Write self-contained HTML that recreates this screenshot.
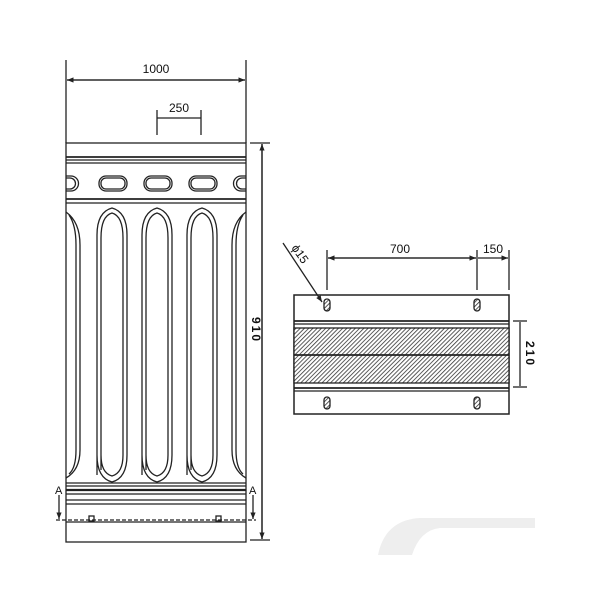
<!DOCTYPE html>
<html><head><style>body{margin:0;background:#fff}svg{display:block}text{font-family:"Liberation Sans",sans-serif;fill:#111}</style></head><body>
<svg width="600" height="600" viewBox="0 0 600 600" xmlns="http://www.w3.org/2000/svg">
<defs>
<pattern id="h" width="3" height="3" patternUnits="userSpaceOnUse" patternTransform="rotate(45)"><rect width="3" height="3" fill="#fff"/><line x1="0" y1="0" x2="0" y2="3" stroke="#333" stroke-width="1.6"/></pattern>
<marker id="a" markerWidth="6" markerHeight="6" refX="5" refY="3" orient="auto"><path d="M0,1 L5,3 L0,5" fill="#222"/></marker>
</defs>
<g stroke="#222" fill="none" stroke-width="1.3">
<line x1="66" y1="60" x2="66" y2="143"/><line x1="246" y1="60" x2="246" y2="143"/>
<line x1="67" y1="80" x2="245" y2="80" marker-end="url(#a)"/><line x1="245" y1="80" x2="67" y2="80" marker-end="url(#a)"/>
<line x1="157" y1="110" x2="157" y2="135"/><line x1="201" y1="110" x2="201" y2="135"/>
<line x1="157" y1="118" x2="201" y2="118"/>
<line x1="250" y1="143" x2="270" y2="143"/><line x1="250" y1="540" x2="270" y2="540"/>
<line x1="262" y1="144" x2="262" y2="539" marker-end="url(#a)"/><line x1="262" y1="539" x2="262" y2="144" marker-end="url(#a)"/>
<rect x="66" y="143" width="180" height="399"/>
<line x1="66" y1="157" x2="246" y2="157" stroke-width="1.8"/><line x1="66" y1="160" x2="246" y2="160"/><line x1="66" y1="163" x2="246" y2="163"/>
<line x1="66" y1="199" x2="246" y2="199" stroke-width="1.8"/><line x1="66" y1="203" x2="246" y2="203"/>
<g stroke-width="1.3">
<rect x="99" y="176" width="28" height="15" rx="7"/><rect x="101" y="178" width="24" height="11" rx="5"/>
<rect x="144" y="176" width="28" height="15" rx="7"/><rect x="146" y="178" width="24" height="11" rx="5"/>
<rect x="189" y="176" width="28" height="15" rx="7"/><rect x="191" y="178" width="24" height="11" rx="5"/>
<path d="M66,176 H71 a7,7 0 0 1 0,15 H66 M66,178 H70 a5,5 0 0 1 0,11 H66"/>
<path d="M246,176 H241 a7,7 0 0 0 0,15 H246 M246,178 H242 a5,5 0 0 0 0,11 H246"/>
</g>
<g fill="#fff" stroke-width="1.3">
<path d="M97,475 V235 Q97,212 112,208 Q127,212 127,235 V455 Q127,478 112,482 Q97,478 97,455 Z"/>
<path d="M101,470 V238 Q101,216 112,213 Q123,216 123,238 V455 Q123,473 112,476 Q101,473 101,455 Z"/>
<path d="M142,475 V235 Q142,212 157,208 Q172,212 172,235 V455 Q172,478 157,482 Q142,478 142,455 Z"/>
<path d="M146,470 V238 Q146,216 157,213 Q168,216 168,238 V455 Q168,473 157,476 Q146,473 146,455 Z"/>
<path d="M187,475 V235 Q187,212 202,208 Q217,212 217,235 V455 Q217,478 202,482 Q187,478 187,455 Z"/>
<path d="M191,470 V238 Q191,216 202,213 Q213,216 213,238 V455 Q213,473 202,476 Q191,473 191,455 Z"/>
</g>
<path d="M66,212 Q80,222 80,245 V450 Q80,470 66,478 M69,215 Q76,225 76,245 V450 Q76,468 69,474"/>
<path d="M246,212 Q232,222 232,245 V450 Q232,470 246,478 M243,215 Q236,225 236,245 V450 Q236,468 243,474"/>
<line x1="66" y1="483" x2="246" y2="483"/><line x1="66" y1="486" x2="246" y2="486"/>
<line x1="66" y1="490" x2="246" y2="490" stroke-width="2.2"/><line x1="66" y1="494" x2="246" y2="494"/>
<line x1="66" y1="500" x2="246" y2="500"/><line x1="66" y1="504" x2="246" y2="504"/>
<line x1="56" y1="520" x2="256" y2="520" stroke-dasharray="4,2"/><line x1="66" y1="522" x2="246" y2="522"/>
<rect x="89" y="516" width="5" height="5"/><rect x="216" y="516" width="5" height="5"/>
<line x1="59" y1="495" x2="59" y2="519" marker-end="url(#a)"/><line x1="253" y1="495" x2="253" y2="519" marker-end="url(#a)"/>
<line x1="327" y1="250" x2="327" y2="290"/><line x1="477" y1="250" x2="477" y2="290"/><line x1="509" y1="250" x2="509" y2="290"/>
<line x1="328" y1="258" x2="476" y2="258" marker-end="url(#a)"/><line x1="476" y1="258" x2="328" y2="258" marker-end="url(#a)"/>
<line x1="478" y1="258" x2="508" y2="258" marker-end="url(#a)"/>
<line x1="283" y1="243" x2="322" y2="302" marker-end="url(#a)"/>
<rect x="294" y="295" width="215" height="119" stroke-width="1.5"/>
<rect x="294" y="328" width="215" height="55" fill="url(#h)"/>
<line x1="294" y1="321" x2="509" y2="321" stroke-width="1.8"/><line x1="294" y1="324" x2="509" y2="324"/>
<line x1="294" y1="355" x2="509" y2="355" stroke-width="1.8"/>
<line x1="294" y1="388" x2="509" y2="388" stroke-width="1.8"/><line x1="294" y1="391" x2="509" y2="391"/>
<g fill="url(#h)"><rect x="324" y="299" width="6" height="12" rx="3"/><rect x="474" y="299" width="6" height="12" rx="3"/><rect x="324" y="397" width="6" height="12" rx="3"/><rect x="474" y="397" width="6" height="12" rx="3"/></g>
<line x1="513" y1="321" x2="527" y2="321"/><line x1="513" y1="387" x2="527" y2="387"/><line x1="520" y1="322" x2="520" y2="386"/>
</g>
<text x="156" y="73" font-size="12" text-anchor="middle">1000</text>
<text x="179" y="112" font-size="12" text-anchor="middle">250</text>
<text x="0" y="0" font-size="12" font-weight="bold" transform="translate(252,330) rotate(90)" text-anchor="middle" letter-spacing="2">910</text>
<text x="400" y="253" font-size="12" text-anchor="middle">700</text>
<text x="493" y="253" font-size="12" text-anchor="middle">150</text>
<text x="0" y="0" font-size="12" transform="translate(291,248) rotate(55)">ϕ15</text>
<text x="0" y="0" font-size="12" font-weight="bold" transform="translate(526,354) rotate(90)" text-anchor="middle" letter-spacing="2">210</text>
<text x="55" y="494" font-size="11">A</text><text x="249" y="494" font-size="11">A</text>
<path d="M378,555 Q385,520 420,518 H535 V528 H440 Q420,530 412,555 Z" fill="#eee"/>
</svg>
</body></html>
